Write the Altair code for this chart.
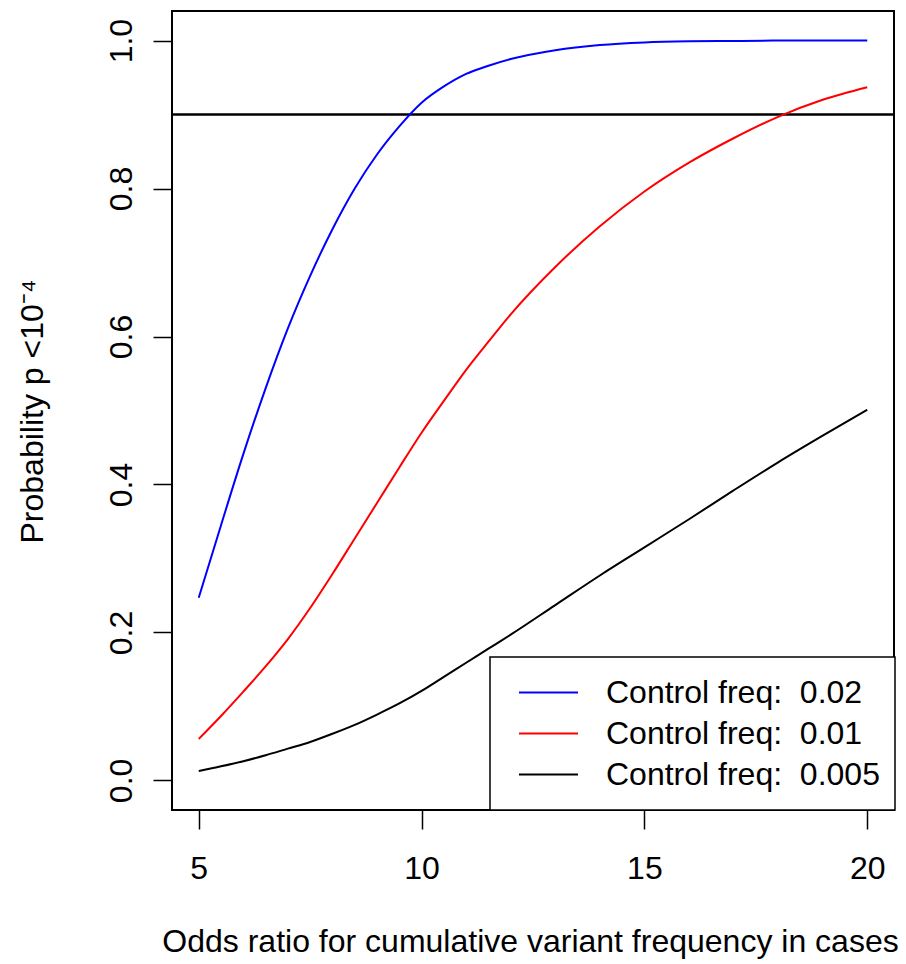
import altair as alt
import pandas as pd

odds_ratio = [5, 5.5, 6, 6.5, 7, 7.5, 8, 8.5, 9, 9.5, 10, 10.5, 11, 11.5, 12, 13, 14, 15, 16, 17, 18, 19, 20]
prob_002 = [0.247, 0.345, 0.441, 0.530, 0.611, 0.682, 0.745, 0.800, 0.846, 0.884, 0.916,
            0.938, 0.955, 0.966, 0.975, 0.987, 0.994, 0.9975, 0.999, 0.9995, 1.0, 1.0, 1.0]
prob_001 = [0.056, 0.087, 0.120, 0.154, 0.191, 0.233, 0.279, 0.327, 0.375, 0.423, 0.470,
            0.513, 0.555, 0.593, 0.630, 0.694, 0.749, 0.796, 0.835, 0.868, 0.897, 0.920, 0.937]
prob_0005 = [0.0126, 0.019, 0.026, 0.034, 0.043, 0.052, 0.063, 0.075, 0.089, 0.104, 0.121,
             0.140, 0.159, 0.178, 0.197, 0.237, 0.277, 0.315, 0.353, 0.392, 0.430, 0.466, 0.501]
series_labels = ["Control freq:\u00a0 0.02", "Control freq:\u00a0 0.01", "Control freq:\u00a0 0.005"]
series_colors = ["#0000FF", "#FF0000", "#000000"]
threshold = [0.9]
x_ticks = [5, 10, 15, 20]
y_ticks = [0.0, 0.2, 0.4, 0.6, 0.8, 1.0]

rows = []
for lab, vals in zip(series_labels, [prob_002, prob_001, prob_0005]):
    for x, y in zip(odds_ratio, vals):
        rows.append({"or": x, "p": y, "series": lab})
df = pd.DataFrame(rows)
df_h = pd.DataFrame({"h": threshold})

FONT = "Liberation Sans"
FS = 32

xscale = alt.Scale(domain=[4.4, 20.6], nice=False, zero=False)
yscale = alt.Scale(domain=[-0.04, 1.04], nice=False, zero=False)

lines = alt.Chart(df).mark_line(strokeWidth=2, interpolate="monotone").encode(
    x=alt.X("or:Q", scale=xscale,
            axis=alt.Axis(values=x_ticks, format="d", tickSize=19, tickWidth=1.5,
                          tickColor="black", domain=False, grid=False,
                          labelFontSize=FS, labelFont=FONT, labelColor="black",
                          labelBaseline="alphabetic", labelPadding=49,
                          title="Odds ratio for cumulative variant frequency in cases",
                          titleFontSize=FS, titleFont=FONT, titleFontWeight="normal",
                          titleColor="black", titleBaseline="alphabetic",
                          titleY=141, titleX=358, titleAlign="center")),
    y=alt.Y("p:Q", scale=yscale,
            axis=alt.Axis(values=y_ticks, format=".1f", tickSize=19, tickWidth=1.5,
                          tickColor="black", domain=False, grid=False,
                          labelFontSize=FS, labelFont=FONT, labelColor="black",
                          labelAngle=270, labelAlign="center", labelBaseline="alphabetic",
                          labelPadding=22,
                          title="Probability p <10\u207b\u2074",
                          titleFontSize=FS, titleFont=FONT, titleFontWeight="normal",
                          titleColor="black", titleAngle=270, titleBaseline="alphabetic",
                          titleAlign="center", titleX=-130, titleY=400)),
    color=alt.Color("series:N",
                    scale=alt.Scale(domain=series_labels, range=series_colors),
                    sort=series_labels,
                    legend=alt.Legend(orient="none", legendX=318, legendY=646, title=None,
                                      symbolType="stroke", symbolSize=3481,
                                      symbolStrokeWidth=2, labelFontSize=FS,
                                      labelFont=FONT, labelColor="black",
                                      strokeColor="black", fillColor="white",
                                      padding=15, clipHeight=41, rowPadding=0,
                                      labelOffset=27, symbolOffset=13, labelLimit=500)),
)

hline = alt.Chart(df_h).mark_rule(color="black", strokeWidth=2.5).encode(
    y=alt.Y("h:Q", scale=yscale)
)

chart = alt.layer(hline, lines).properties(
    width=722, height=799,
    autosize=alt.AutoSizeParams(type="none"),
    padding={"left": 164, "top": 3, "right": 4, "bottom": 150},
).configure_view(stroke="black", strokeWidth=2).configure_legend(strokeWidth=1.5)

chart.save("out.html", embed_options={"renderer": "svg", "actions": False})
